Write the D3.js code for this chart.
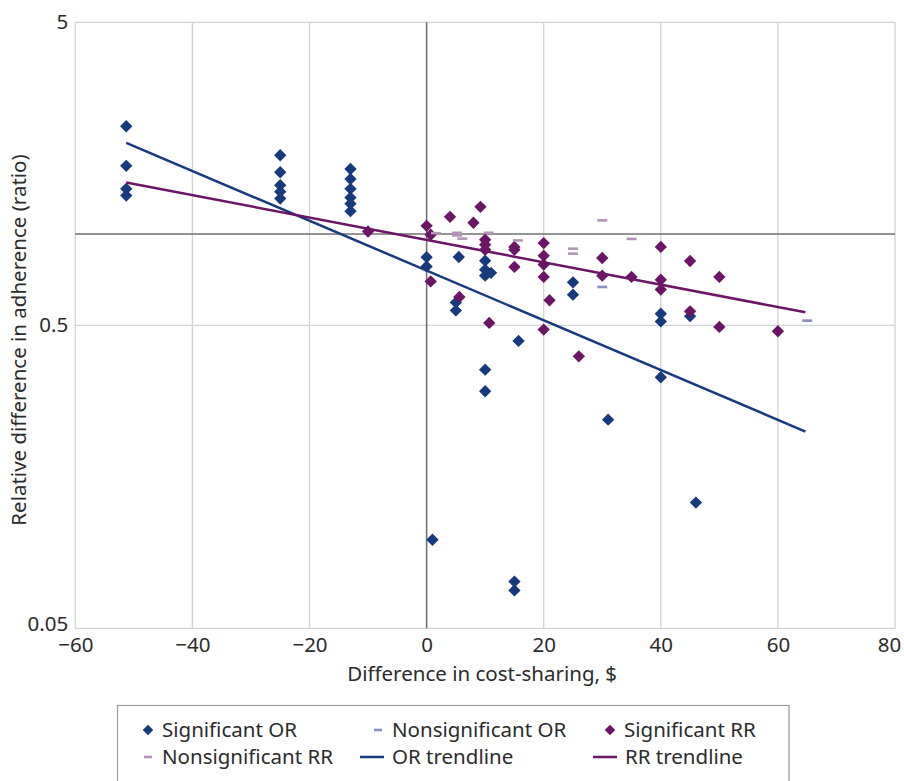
<!DOCTYPE html>
<html>
<head>
<meta charset="utf-8">
<script src="https://cdn.jsdelivr.net/npm/d3@7"></script>
<style>
  body { margin: 0; background: #fff; }
  text { font-family: "Noto Sans", sans-serif; fill: #2b2b2b; }
</style>
</head>
<body>
<div id="chart"></div>
<script>
const svgWidth = 904
const svgHeight = 781

let margin = { top: 22.3, right: 9, bottom: 152.7, left: 75.3 }
let width = svgWidth - margin.left - margin.right
let height = svgHeight - margin.top - margin.bottom

const fontSize = "20.5px"

// data: [cost-sharing difference $, ratio]
const sigOR = [
  [-51.3, 2.27], [-51.3, 1.68], [-51.3, 1.41], [-51.3, 1.34],
  [-25, 1.82], [-25, 1.60], [-25, 1.45], [-25, 1.38], [-25, 1.31],
  [-13, 1.64], [-13, 1.52], [-13, 1.41], [-13, 1.32], [-13, 1.26], [-13, 1.19],
  [0, 0.839], [0, 0.782], [5.5, 0.84], [10, 0.817], [10, 0.763], [10, 0.729], [11, 0.745],
  [5, 0.595], [5, 0.56], [25, 0.693], [25, 0.631], [40, 0.546], [40, 0.515], [45, 0.536],
  [15.7, 0.444], [10, 0.357], [10, 0.303], [40, 0.337], [31, 0.244], [46, 0.13],
  [1, 0.098], [15, 0.0713], [15, 0.0667]
]
const nonsigOR = [[30, 0.669], [65, 0.518]]
const sigRR = [
  [-10, 1.02], [0, 1.065], [0.7, 0.995], [0.7, 0.698], [4, 1.14], [9.2, 1.23], [8, 1.09],
  [10, 0.958], [10, 0.923], [10, 0.888], [15, 0.907], [15, 0.888], [15, 0.779],
  [5.6, 0.62], [10.7, 0.509], [20, 0.934], [20, 0.849], [20, 0.793], [20, 0.722],
  [21, 0.605], [20, 0.484], [26, 0.395], [30, 0.834], [30, 0.729], [35, 0.722],
  [40, 0.907], [40, 0.707], [40, 0.656], [45, 0.815], [45, 0.556], [50, 0.722],
  [50, 0.494], [60, 0.478]
]
const nonsigRR = [
  [1.6, 1.007], [5.2, 1.01], [5.2, 0.99], [6.1, 0.966], [10.6, 1.01], [15.6, 0.953],
  [25, 0.895], [25, 0.862], [30, 1.11], [35, 0.964]
]
const orTrend = [[-51.3, 2.0], [64.7, 0.223]]
const rrTrend = [[-51.3, 1.48], [64.7, 0.552]]

const xTicks = [-60, -40, -20, 0, 20, 40, 60, 80]
const yTicks = [0.05, 0.5, 5]

const colors = {
  sigOR: "#173a7e",
  nonsigOR: "#8a8fc2",
  sigRR: "#6c1465",
  nonsigRR: "#b394b8"
}

let svg = d3.select("#chart").append("svg")
  .attr("width", svgWidth)
  .attr("height", svgHeight)

let chartGroup = svg.append("g")
  .attr("transform", `translate(${margin.left}, ${margin.top})`)

let x = d3.scaleLinear().domain([-60, 80]).range([0, width])
let y = d3.scaleLog().domain([0.05, 5]).range([height, 0])

// grid
chartGroup.append("g").selectAll("line")
  .data(xTicks)
  .enter().append("line")
  .attr("x1", d => x(d)).attr("x2", d => x(d))
  .attr("y1", 0).attr("y2", height)
  .attr("stroke", "#d3d3d3").attr("stroke-width", 1.3)

chartGroup.append("g").selectAll("line")
  .data(yTicks)
  .enter().append("line")
  .attr("x1", 0).attr("x2", width)
  .attr("y1", d => y(d)).attr("y2", d => y(d))
  .attr("stroke", "#d3d3d3").attr("stroke-width", 1.3)

// ratio 1 and $0 lines
chartGroup.append("line")
  .attr("x1", 0).attr("x2", width)
  .attr("y1", y(1)).attr("y2", y(1))
  .attr("stroke", "#707070").attr("stroke-width", 1.5)
chartGroup.append("line")
  .attr("x1", x(0)).attr("x2", x(0))
  .attr("y1", 0).attr("y2", height)
  .attr("stroke", "#707070").attr("stroke-width", 1.5)

// axes (labels only)
let bottomAxis = d3.axisBottom(x).tickValues(xTicks).tickSize(0).tickPadding(9)
  .tickFormat(d => d3.format("d")(d).replace("-", "\u2212"))
let xAxis = chartGroup.append("g")
  .attr("transform", `translate(0, ${height})`)
  .call(bottomAxis)
let leftAxis = d3.axisLeft(y).tickValues(yTicks).tickSize(0).tickPadding(7)
  .tickFormat(d => String(d))
let yAxis = chartGroup.append("g").call(leftAxis)

;[xAxis, yAxis].forEach(a => {
  a.select(".domain").remove()
  a.selectAll("text").style("font-size", fontSize).style("font-family", "'Noto Sans', sans-serif").attr("fill", "#2b2b2b")
})
// keep the last x label inside the page, lift 0.05 off the x labels
xAxis.selectAll("text").filter(d => d === 80).attr("dx", -6)
yAxis.selectAll("text").filter(d => d === 0.05).attr("dy", "0.1em")

const diamond = d3.symbol(d3.symbolSquare, 76)()

function drawDiamonds(data, color) {
  chartGroup.append("g").selectAll("path")
    .data(data)
    .enter().append("path")
    .attr("d", diamond)
    .attr("transform", d => `translate(${x(d[0])},${y(d[1])}) rotate(45)`)
    .attr("fill", color)
}

function drawDashes(data, color) {
  chartGroup.append("g").selectAll("rect")
    .data(data)
    .enter().append("rect")
    .attr("x", d => x(d[0]) - 5)
    .attr("y", d => y(d[1]) - 1.3)
    .attr("width", 10).attr("height", 2.6)
    .attr("fill", color)
}

drawDiamonds(sigOR, colors.sigOR)
drawDashes(nonsigOR, colors.nonsigOR)
drawDiamonds(sigRR, colors.sigRR)
drawDashes(nonsigRR, colors.nonsigRR)

let line = d3.line().x(d => x(d[0])).y(d => y(d[1]))
chartGroup.append("path").datum(orTrend)
  .attr("d", line).attr("fill", "none")
  .attr("stroke", colors.sigOR).attr("stroke-width", 2.5)
chartGroup.append("path").datum(rrTrend)
  .attr("d", line).attr("fill", "none")
  .attr("stroke", colors.sigRR).attr("stroke-width", 2.5)

// axis titles
svg.append("text")
  .attr("x", margin.left + width / 2 - 3)
  .attr("y", 681)
  .attr("text-anchor", "middle")
  .style("font-size", fontSize)
  .text("Difference in cost-sharing, $")

svg.append("text")
  .attr("transform", `translate(26, 340) rotate(-90)`)
  .attr("text-anchor", "middle")
  .style("font-size", fontSize)
  .text("Relative difference in adherence (ratio)")

// legend
let legend = svg.append("g")
legend.append("rect")
  .attr("x", 117.5).attr("y", 705.5)
  .attr("width", 671.5).attr("height", 100)
  .attr("fill", "#fff").attr("stroke", "#9a9a9a").attr("stroke-width", 1.2)

const legendItems = [
  { label: "Significant OR", type: "diamond", color: colors.sigOR, x: 148, y: 730 },
  { label: "Nonsignificant OR", type: "dash", color: colors.nonsigOR, x: 378, y: 730 },
  { label: "Significant RR", type: "diamond", color: colors.sigRR, x: 610, y: 730 },
  { label: "Nonsignificant RR", type: "dash", color: colors.nonsigRR, x: 148, y: 757 },
  { label: "OR trendline", type: "line", color: colors.sigOR, x: 372, y: 757 },
  { label: "RR trendline", type: "line", color: colors.sigRR, x: 605, y: 757 }
]

legendItems.forEach(d => {
  if (d.type === "diamond") {
    legend.append("path")
      .attr("d", d3.symbol(d3.symbolSquare, 56)())
      .attr("transform", `translate(${d.x},${d.y}) rotate(45)`)
      .attr("fill", d.color)
  } else if (d.type === "dash") {
    legend.append("rect")
      .attr("x", d.x - 4).attr("y", d.y - 1.3)
      .attr("width", 8).attr("height", 2.6)
      .attr("fill", d.color)
  } else {
    legend.append("line")
      .attr("x1", d.x - 12).attr("x2", d.x + 12)
      .attr("y1", d.y).attr("y2", d.y)
      .attr("stroke", d.color).attr("stroke-width", 2.5)
  }
  legend.append("text")
    .attr("x", d.x + (d.type === "line" ? 20 : 14))
    .attr("y", d.y + 7)
    .style("font-size", fontSize)
    .text(d.label)
})
</script>
</body>
</html>
